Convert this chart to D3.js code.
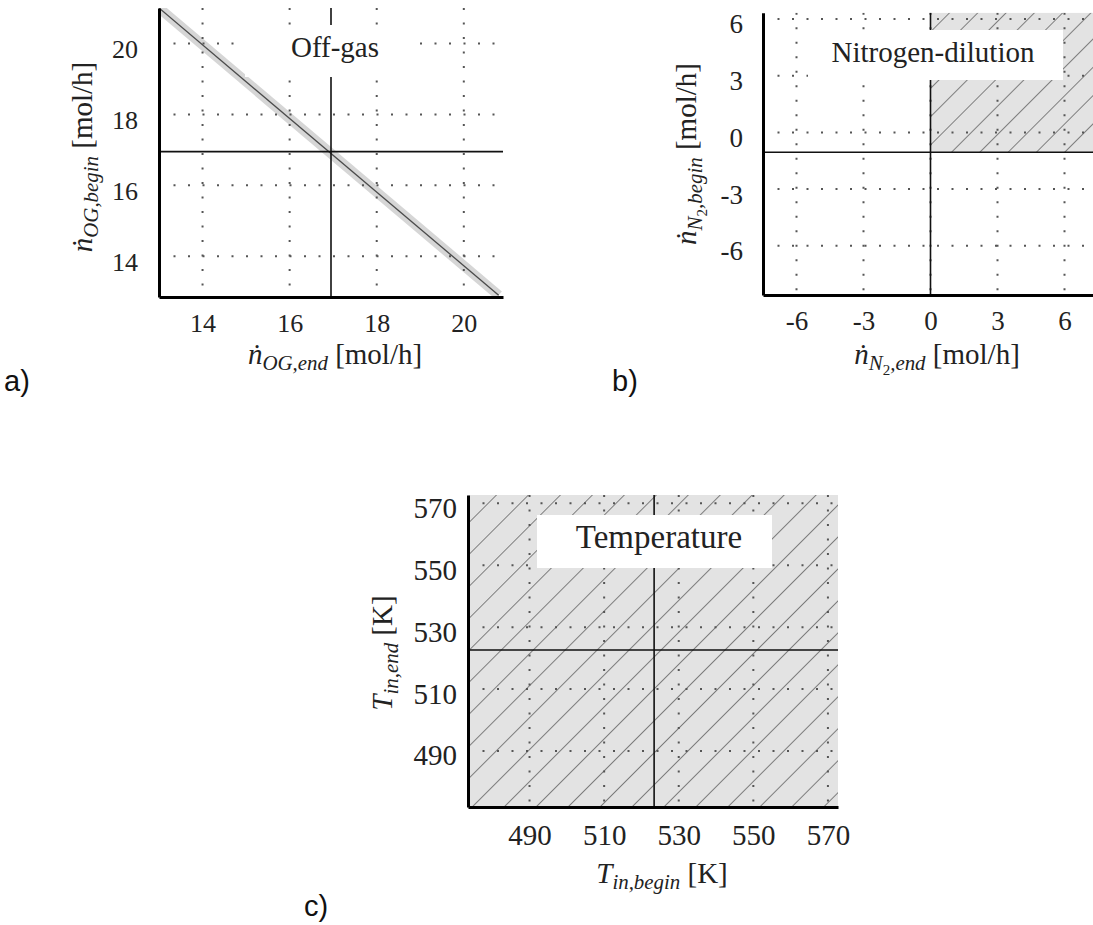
<!DOCTYPE html>
<html lang="en">
  <head>
    <meta charset="UTF-8" />
    <title>Operating windows</title>
    <style>
      html, body { margin: 0; padding: 0; background: #fff; }
      svg { display: block; }
      text { white-space: pre; }
    </style>
  </head>
  <body>
    <div id="chart"></div>
    <script src="https://d3js.org/d3.v7.min.js"></script>
    <script>
      // panel a: off-gas
      const ogTicks = [14, 16, 18, 20];
      const ogLine = [[13, 21], [20.8, 12.9]];
      const ogCross = [16.95, 16.95];

      // panel b: nitrogen dilution
      const n2Ticks = [-6, -3, 0, 3, 6];
      const n2Cross = [0, -1.05];
      const n2Region = { x: [0, 7.5], y: [-1.05, 6.33] };

      // panel c: temperature
      const tTicks = [490, 510, 530, 550, 570];
      const tCross = [523.4, 522.6];
      const tRegion = { x: [473.5, 572.7], y: [471.9, 572.7] };

      const width = 1093;
      const height = 925;
      const serif = "'Liberation Serif', 'DejaVu Serif', serif";
      const sans = "'Liberation Sans', Arial, sans-serif";

      const svg = d3.select("#chart").append("svg")
          .attr("width", width)
          .attr("height", height)
          .attr("viewBox", [0, 0, width, height]);

      svg.append("rect").attr("width", width).attr("height", height).attr("fill", "#fff");

      const defs = svg.append("defs");

      function hatch(id, s) {
        const p = defs.append("pattern")
            .attr("id", id)
            .attr("patternUnits", "userSpaceOnUse")
            .attr("width", s)
            .attr("height", s)
            .attr("patternTransform", "rotate(45)");
        p.append("line")
            .attr("x1", 0).attr("y1", -1)
            .attr("x2", 0).attr("y2", s + 1)
            .attr("stroke", "#2a2a2a")
            .attr("stroke-width", 1.1);
      }
      hatch("hatch-b", 20);
      hatch("hatch-c", 22.6);

      // label with italic main symbol, subscripts and sub-subscripts
      function mathLabel(g, x, y, rot, size, parts) {
        const t = g.append("text")
            .attr("transform", `translate(${x},${y}) rotate(${rot})`)
            .attr("text-anchor", "middle")
            .attr("font-family", serif)
            .attr("font-size", size)
            .attr("fill", "#222");
        let shift = 0;
        parts.forEach(p => {
          const lvl = p.s || 0;
          const want = lvl === 0 ? 0 : lvl === 1 ? size * 0.22 : size * 0.38;
          t.append("tspan")
              .attr("dy", want - shift)
              .attr("font-style", p.i ? "italic" : "normal")
              .attr("font-size", lvl === 0 ? size : lvl === 1 ? size * 0.72 : size * 0.52)
              .text(p.t);
          shift = want;
        });
      }

      function panel(cfg) {
        const g = svg.append("g");
        const x = d3.scaleLinear(cfg.xDomain, [cfg.left, cfg.right]);
        const y = d3.scaleLinear(cfg.yDomain, [cfg.bottom, cfg.top]);

        defs.append("clipPath").attr("id", "clip-" + cfg.id)
          .append("rect")
            .attr("x", cfg.left).attr("y", cfg.top)
            .attr("width", cfg.right - cfg.left)
            .attr("height", cfg.bottom - cfg.top);

        const plot = g.append("g").attr("clip-path", `url(#clip-${cfg.id})`);

        // shaded, hatched feasible region
        if (cfg.region) {
          const r = cfg.region;
          const rect = sel => sel
              .attr("x", x(r.x[0]))
              .attr("y", y(r.y[1]))
              .attr("width", x(r.x[1]) - x(r.x[0]))
              .attr("height", y(r.y[0]) - y(r.y[1]));
          plot.append("rect").call(rect).attr("fill", "#e3e3e3");
          plot.append("rect").call(rect).attr("fill", `url(#${cfg.hatch})`);
        }

        // band around the diagonal
        if (cfg.line) {
          plot.append("path")
              .datum(cfg.line)
              .attr("d", d3.line(d => x(d[0]), d => y(d[1])))
              .attr("fill", "none")
              .attr("stroke", "#d6d6d6")
              .attr("stroke-width", 10);
        }

        // dotted grid
        plot.append("g")
          .selectAll("line")
          .data(cfg.xTicks)
          .join("line")
            .attr("x1", d => x(d)).attr("x2", d => x(d))
            .attr("y1", cfg.top).attr("y2", cfg.bottom)
            .attr("stroke", "#555")
            .attr("stroke-width", 2)
            .attr("stroke-dasharray", "2 12.5");
        plot.append("g")
          .selectAll("line")
          .data(cfg.yTicks)
          .join("line")
            .attr("y1", d => y(d)).attr("y2", d => y(d))
            .attr("x1", cfg.left).attr("x2", cfg.right)
            .attr("stroke", "#555")
            .attr("stroke-width", 2)
            .attr("stroke-dasharray", "2 12.5");

        if (cfg.line) {
          plot.append("path")
              .datum(cfg.line)
              .attr("d", d3.line(d => x(d[0]), d => y(d[1])))
              .attr("fill", "none")
              .attr("stroke", "#4a4a4a")
              .attr("stroke-width", 1.3);
        }

        // nominal point cross
        plot.append("line")
            .attr("x1", x(cfg.cross[0])).attr("x2", x(cfg.cross[0]))
            .attr("y1", cfg.top).attr("y2", cfg.bottom)
            .attr("stroke", "#111").attr("stroke-width", 1.6);
        plot.append("line")
            .attr("y1", y(cfg.cross[1])).attr("y2", y(cfg.cross[1]))
            .attr("x1", cfg.left).attr("x2", cfg.right)
            .attr("stroke", "#111").attr("stroke-width", 1.6);

        // title box
        const b = cfg.box;
        plot.append("rect")
            .attr("x", b[0]).attr("y", b[1])
            .attr("width", b[2] - b[0]).attr("height", b[3] - b[1])
            .attr("fill", "#fff");
        g.append("text")
            .attr("x", cfg.titlePos[0]).attr("y", cfg.titlePos[1])
            .attr("text-anchor", "middle")
            .attr("font-family", serif)
            .attr("font-size", cfg.titleSize)
            .attr("fill", "#222")
            .text(cfg.title);

        // axes
        g.append("g")
            .attr("transform", `translate(0,${cfg.bottom})`)
            .call(d3.axisBottom(x).tickValues(cfg.xTicks).tickSize(0).tickSizeOuter(0).tickFormat(d => String(d)))
            .call(a => a.select(".domain").attr("stroke", "#000").attr("stroke-width", 3))
            .call(a => a.selectAll("text")
                .attr("y", cfg.xGap).attr("dy", 0)
                .attr("font-family", serif)
                .attr("font-size", cfg.tick)
                .attr("fill", "#222"));

        g.append("g")
            .attr("transform", `translate(${cfg.left},0)`)
            .call(d3.axisLeft(y).tickValues(cfg.yTicks).tickSize(0).tickSizeOuter(0).tickFormat(d => String(d)))
            .call(a => a.select(".domain").attr("stroke", "#000").attr("stroke-width", 3))
            .call(a => a.selectAll("text")
                .attr("x", -cfg.yPad).attr("dy", 14)
                .attr("font-family", serif)
                .attr("font-size", cfg.tick)
                .attr("fill", "#222"));

        mathLabel(g, cfg.xLabelPos[0], cfg.xLabelPos[1], 0, 29, cfg.xLabel);
        mathLabel(g, cfg.yLabelPos[0], cfg.yLabelPos[1], -90, 29, cfg.yLabel);

        g.append("text")
            .attr("x", cfg.tag[0]).attr("y", cfg.tag[1])
            .attr("font-family", sans)
            .attr("font-size", 29)
            .attr("fill", "#111")
            .text(cfg.id + ")");
      }

      panel({
        id: "a",
        xDomain: [13, 20.9], yDomain: [12.85, 21],
        left: 159, right: 503, top: 8, bottom: 297,
        xTicks: ogTicks, yTicks: ogTicks,
        line: ogLine, cross: ogCross,
        tick: 26, xGap: 35, yPad: 21,
        title: "Off-gas", titleSize: 29, titlePos: [335, 57], box: [245, 25, 417, 77],
        xLabel: [{ t: "ṅ", i: true }, { t: "OG,end", i: true, s: 1 }, { t: " [mol/h]" }],
        yLabel: [{ t: "ṅ", i: true }, { t: "OG,begin", i: true, s: 1 }, { t: " [mol/h]" }],
        xLabelPos: [335, 364], yLabelPos: [92, 157],
        tag: [4, 391]
      });

      panel({
        id: "b",
        xDomain: [-7.5, 7.5], yDomain: [-8.6, 6.33],
        left: 763, right: 1098, top: 12.7, bottom: 295,
        xTicks: n2Ticks, yTicks: n2Ticks,
        region: n2Region, hatch: "hatch-b", cross: n2Cross,
        tick: 27, xGap: 35, yPad: 20,
        title: "Nitrogen-dilution", titleSize: 29, titlePos: [933, 62], box: [808, 30, 1063, 80],
        xLabel: [{ t: "ṅ", i: true }, { t: "N", i: true, s: 1 }, { t: "2", s: 2 }, { t: ",end", i: true, s: 1 }, { t: " [mol/h]" }],
        yLabel: [{ t: "ṅ", i: true }, { t: "N", i: true, s: 1 }, { t: "2", s: 2 }, { t: ",begin", i: true, s: 1 }, { t: " [mol/h]" }],
        xLabelPos: [937, 364], yLabelPos: [696, 154],
        tag: [612, 391]
      });

      panel({
        id: "c",
        xDomain: [473.5, 572.7], yDomain: [471.9, 572.7],
        left: 468, right: 838, top: 495, bottom: 807,
        xTicks: tTicks, yTicks: tTicks,
        region: tRegion, hatch: "hatch-c", cross: tCross,
        tick: 29, xGap: 38, yPad: 11,
        title: "Temperature", titleSize: 33, titlePos: [659, 548], box: [537, 515, 772, 568],
        xLabel: [{ t: "T", i: true }, { t: "in,begin", i: true, s: 1 }, { t: " [K]" }],
        yLabel: [{ t: "T", i: true }, { t: "in,end", i: true, s: 1 }, { t: " [K]" }],
        xLabelPos: [662, 883], yLabelPos: [392, 653],
        tag: [304, 916]
      });
    </script>
  </body>
</html>
